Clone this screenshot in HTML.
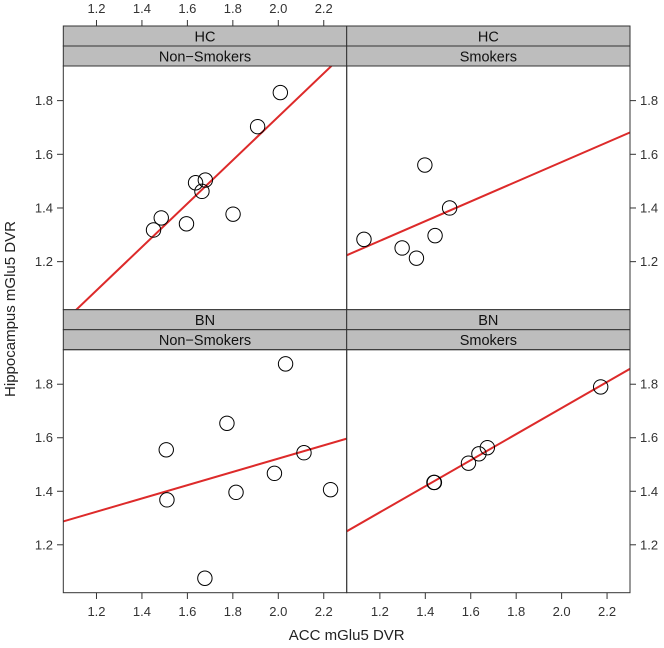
<!DOCTYPE html>
<html><head><meta charset="utf-8"><style>
html,body{margin:0;padding:0;background:#fff}
svg{display:block;font-family:"Liberation Sans",sans-serif}
</style></head><body>
<svg id="chart" width="664" height="648" viewBox="0 0 664 648"></svg>
<script>
const xTicks=[1.2,1.4,1.6,1.8,2.0,2.2];
const yTicks=[1.2,1.4,1.6,1.8];
const panelGroups=["HC","HC","BN","BN"];
const panelSmoke=["Non\u2212Smokers","Smokers","Non\u2212Smokers","Smokers"];
const hcNsX=[1.451,1.485,1.596,1.636,1.679,1.664,1.801,1.909,2.009];
const hcNsY=[1.318,1.363,1.341,1.494,1.504,1.462,1.377,1.703,1.830];
const hcSX=[1.130,1.298,1.361,1.398,1.443,1.507];
const hcSY=[1.283,1.251,1.213,1.560,1.297,1.400];
const bnNsX=[1.507,1.510,1.677,1.774,1.814,1.983,2.032,2.113,2.230];
const bnNsY=[1.555,1.368,1.075,1.654,1.396,1.467,1.876,1.544,1.406];
const bnSX=[1.438,1.440,1.590,1.636,1.673,2.172];
const bnSY=[1.433,1.433,1.505,1.540,1.563,1.790];
const fitIntercept=[0.122,0.837,1.026,0.737];
const fitSlope=[0.809,0.367,0.248,0.487];

const NS="http://www.w3.org/2000/svg";
const svg=document.getElementById('chart');
function mk(tag,attrs,parent){const e=document.createElementNS(NS,tag);for(const k in attrs)e.setAttribute(k,attrs[k]);(parent||svg).appendChild(e);return e;}
const colL=[63.3,346.7], colR=[346.7,630];
const rowTop=[66,349.7], rowBot=[309.7,592.7];
const stripTop=[26,309.7];
const xMin=1.054, xMax=2.301, yMin=1.021, yMax=1.929;
function sx(c,v){return colL[c]+(v-xMin)/(xMax-xMin)*(colR[c]-colL[c]);}
function sy(r,v){return rowBot[r]-(v-yMin)/(yMax-yMin)*(rowBot[r]-rowTop[r]);}
const dataX=[hcNsX,hcSX,bnNsX,bnSX], dataY=[hcNsY,hcSY,bnNsY,bnSY];

for(let p=0;p<4;p++){
  const c=p%2, r=Math.floor(p/2);
  const g=mk('g',{});
  
  
  const cp=mk('clipPath',{id:'cp'+p},g);
  mk('rect',{x:colL[c],y:rowTop[r],width:colR[c]-colL[c],height:rowBot[r]-rowTop[r]},cp);
  const s1=mk('rect',{x:colL[c],y:stripTop[r],width:colR[c]-colL[c],height:20,fill:'#bdbdbd',stroke:'#333','stroke-width':1},g);
  
  
  const t1=mk('text',{x:(colL[c]+colR[c])/2,y:stripTop[r]+15.5,'text-anchor':'middle','font-size':14.5,fill:'#111'},g);
  t1.textContent=panelGroups[p];
  
  
  const s2=mk('rect',{x:colL[c],y:stripTop[r]+20,width:colR[c]-colL[c],height:20,fill:'#bdbdbd',stroke:'#333','stroke-width':1},g);
  
  
  const t2=mk('text',{x:(colL[c]+colR[c])/2,y:stripTop[r]+35.5,'text-anchor':'middle','font-size':14.5,fill:'#111'},g);
  t2.textContent=panelSmoke[p];
  
  
  const x0=xMin-0.2, x1=xMax+0.2;
  const ln=mk('line',{x1:sx(c,x0),y1:sy(r,fitIntercept[p]+fitSlope[p]*x0),x2:sx(c,x1),y2:sy(r,fitIntercept[p]+fitSlope[p]*x1),stroke:'#dd2a2a','stroke-width':2,'clip-path':'url(#cp'+p+')'},g);
  
  
  for(let i=0;i<dataX[p].length;i++){
    const ci=mk('circle',{cx:sx(c,dataX[p][i]),cy:sy(r,dataY[p][i]),r:7.2,fill:'none',stroke:'#000','stroke-width':1},g);
    
    
  }
  const fr=mk('rect',{x:colL[c],y:rowTop[r],width:colR[c]-colL[c],height:rowBot[r]-rowTop[r],fill:'none',stroke:'#333','stroke-width':1},g);
  
  
}
function tick(x1,y1,x2,y2){mk('line',{x1:x1,y1:y1,x2:x2,y2:y2,stroke:'#333','stroke-width':1});}
function lab(x,y,txt,anchor,name){const t=mk('text',{x:x,y:y,'text-anchor':anchor,'font-size':13,fill:'#333'});t.textContent=txt;}
xTicks.forEach(v=>{
  const X=sx(0,v); tick(X,20,X,26); lab(X,13,v.toFixed(1),'middle','x-tick-label-top');
  for(let c=0;c<2;c++){const Xb=sx(c,v); tick(Xb,592.7,Xb,599); lab(Xb,616,v.toFixed(1),'middle','x-tick-label-bottom');}
});
yTicks.forEach(v=>{
  for(let r=0;r<2;r++){const Y=sy(r,v);
    tick(57,Y,63.3,Y); lab(53,Y+4.5,v.toFixed(1),'end','y-tick-label-left');
    tick(630,Y,636,Y); lab(640,Y+4.5,v.toFixed(1),'start','y-tick-label-right');}
});
const xt=mk('text',{x:346.7,y:640,'text-anchor':'middle','font-size':15,fill:'#222'});
xt.textContent='ACC mGlu5 DVR';


const yt=mk('text',{x:0,y:0,'text-anchor':'middle','font-size':15,fill:'#222',transform:'translate(15,309) rotate(-90)'});
yt.textContent='Hippocampus mGlu5 DVR';


</script>
</body></html>
